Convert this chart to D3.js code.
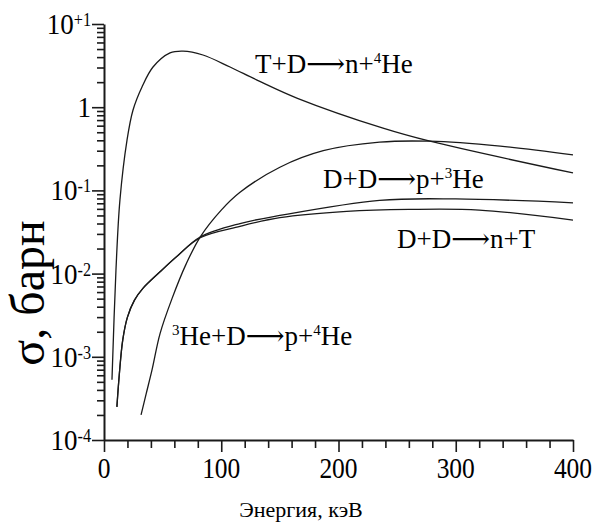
<!DOCTYPE html>
<html>
<head>
<meta charset="utf-8">
<script src="https://cdn.jsdelivr.net/npm/d3@7"></script>
<style>
  body { margin: 0; background: #fff; }
  svg { display: block; }
  .curve { fill: none; stroke: #1a1a1a; stroke-width: 1.3; }
  .axis path, .axis line { stroke: #1a1a1a; }
  .axis path { stroke-width: 2; }
  .axis line { stroke-width: 1.6; }
</style>
</head>
<body>
<svg id="chart" width="599" height="522"></svg>
<script>
// cross sections, barn, vs energy keV
var tdE     = [6.8, 10.2, 13.6, 19.6, 24.7, 32.4, 41.8, 56.3, 67.4, 84.4, 107.5, 130.5, 165, 238, 278, 400];
var tdSigma = [5.3e-4, 0.011, 0.077, 0.40, 0.92, 1.75, 3.04, 4.5, 4.73, 4.24, 3.04, 2.12, 1.28, 0.56, 0.39, 0.162];

var he3E     = [31.6, 36, 41, 47.8, 58, 70, 82, 100, 116, 150, 187, 235, 278, 338, 400];
var he3Sigma = [2.0e-4, 3.6e-4, 7.0e-4, 1.9e-3, 5.0e-3, 0.013, 0.0275, 0.058, 0.095, 0.19, 0.30, 0.38, 0.39, 0.34, 0.267];

var ddpE     = [11, 13, 16, 20, 26, 33, 47.8, 62, 82, 116, 150, 235, 300, 400];
var ddpSigma = [2.5e-4, 6.0e-4, 1.6e-3, 3.0e-3, 4.8e-3, 6.6e-3, 0.0105, 0.016, 0.0275, 0.040, 0.050, 0.076, 0.079, 0.071];

var ddnE     = [11, 13, 16, 20, 26, 33, 47.8, 62, 82, 116, 150, 207, 260, 320, 400];
var ddnSigma = [2.5e-4, 6.0e-4, 1.6e-3, 3.0e-3, 4.8e-3, 6.6e-3, 0.0105, 0.016, 0.027, 0.037, 0.047, 0.056, 0.059, 0.058, 0.044];

var xTicks = [0, 100, 200, 300, 400];
var yTicks = [1e1, 1, 1e-1, 1e-2, 1e-3, 1e-4];
var yTickBase = ["10", "1", "10", "10", "10", "10"];
var yTickExp  = ["+1", "", "-1", "-2", "-3", "-4"];

var serif = "'Times New Roman', 'Liberation Serif', Tinos, 'DejaVu Serif', 'Noto Serif', serif";

var svg = d3.select("#chart").attr("font-family", serif);

var x = d3.scaleLinear().domain([0, 400]).range([104, 573]);
var y = d3.scaleLog().domain([1e-4, 1e1]).range([440, 24]);

// minor + major ticks, x
var xMinor = d3.range(0, 401, 20).filter(function (v) { return v % 100 !== 0; });
svg.append("g").attr("class", "axis")
  .attr("transform", "translate(0,440)")
  .call(d3.axisBottom(x).tickValues(xMinor).tickSize(8).tickFormat(""))
  .select(".domain").remove();
svg.append("g").attr("class", "axis")
  .attr("transform", "translate(0,440)")
  .call(d3.axisBottom(x).tickValues(xTicks).tickSizeInner(12).tickSizeOuter(0).tickFormat(""));

// minor + major ticks, y
var yMinor = [];
for (var p = -4; p < 1; p++) {
  for (var k = 2; k <= 9; k++) yMinor.push(k * Math.pow(10, p));
}
svg.append("g").attr("class", "axis")
  .attr("transform", "translate(104,0)")
  .call(d3.axisLeft(y).tickValues(yMinor).tickSize(7).tickFormat(""))
  .select(".domain").remove();
svg.append("g").attr("class", "axis")
  .attr("transform", "translate(104,0)")
  .call(d3.axisLeft(y).tickValues(yTicks).tickSizeInner(12).tickSizeOuter(0).tickFormat(""));

// tick labels
svg.selectAll(".xlab").data(xTicks).enter().append("text")
  .attr("class", "xlab")
  .attr("transform", function (d) { return "translate(" + x(d) + ",478) scale(0.85,1)"; })
  .attr("text-anchor", "middle")
  .style("font-size", "30px")
  .text(function (d) { return d; });

var yl = svg.selectAll(".ylab").data(yTicks).enter().append("text")
  .attr("class", "ylab")
  .attr("transform", function (d) { return "translate(91," + (y(d) + 10) + ") scale(0.9,1)"; })
  .attr("text-anchor", "end")
  .style("font-size", "30px");
yl.append("tspan").text(function (d, i) { return yTickBase[i]; });
yl.append("tspan")
  .attr("dy", "-0.45em")
  .style("font-size", "18px")
  .text(function (d, i) { return yTickExp[i]; });

// axis titles
svg.append("text")
  .attr("x", 301).attr("y", 517)
  .attr("text-anchor", "middle")
  .style("font-size", "22px")
  .text("Энергия, кэВ");

svg.append("text")
  .attr("transform", "translate(44,293) rotate(-90)")
  .attr("text-anchor", "middle")
  .style("font-size", "48px")
  .text("σ, барн");

// curves
var line = d3.line()
  .x(function (d) { return x(d[0]); })
  .y(function (d) { return y(d[1]); })
  .curve(d3.curveCatmullRom.alpha(0.5));

function pairs(e, s) { return e.map(function (v, i) { return [v, s[i]]; }); }

[[tdE, tdSigma], [he3E, he3Sigma], [ddpE, ddpSigma], [ddnE, ddnSigma]].forEach(function (c) {
  svg.append("path").attr("class", "curve").attr("d", line(pairs(c[0], c[1])));
});

// reaction labels: pieces of [text, isSuperscript]
var labels = [
  { x: 255, y: 73,  parts: [["T+D⟶n+", 0], ["4", 1], ["He", 0]] },
  { x: 323, y: 188, parts: [["D+D⟶p+", 0], ["3", 1], ["He", 0]] },
  { x: 397, y: 248, parts: [["D+D⟶n+T", 0]] },
  { x: 172, y: 345, parts: [["3", 1], ["He+D⟶p+", 0], ["4", 1], ["He", 0]] }
];
labels.forEach(function (l) {
  var t = svg.append("text").attr("x", l.x).attr("y", l.y).style("font-size", "27px");
  var up = false;
  l.parts.forEach(function (pt) {
    var s = t.append("tspan").text(pt[0]);
    if (pt[1] && !up) { s.attr("dy", -10).style("font-size", "15px"); up = true; }
    else if (!pt[1] && up) { s.attr("dy", 10); up = false; }
  });
});
</script>
</body>
</html>
